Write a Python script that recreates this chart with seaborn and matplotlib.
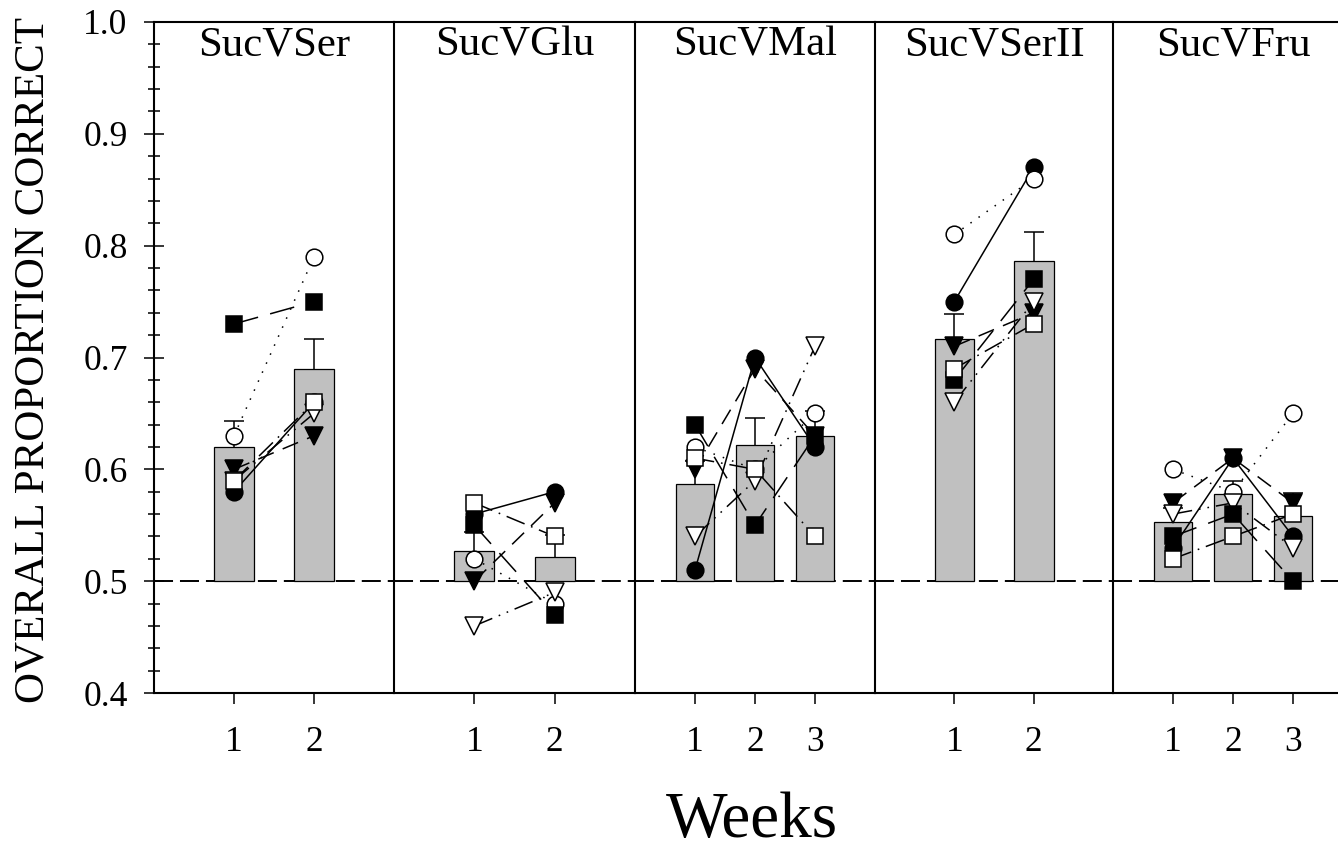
import numpy as np
import pandas as pd
import matplotlib
matplotlib.use("Agg")
import matplotlib.pyplot as plt
from matplotlib.ticker import MultipleLocator, FormatStrFormatter
import seaborn as sns

# ---------------------------------------------------------------------------
# Overall proportion correct for six subjects (S1..S6), per test week
# ---------------------------------------------------------------------------
subjects = ["S1", "S2", "S3", "S4", "S5", "S6"]
panel_names = ["SucVSer", "SucVGlu", "SucVMal", "SucVSerII", "SucVFru"]
weeks_two = ["1", "2"]
weeks_three = ["1", "2", "3"]

# rows follow the subjects list, columns follow the weeks
sucvser = [[0.58, 0.66], [0.63, 0.79], [0.60, 0.63],
           [0.59, 0.65], [0.73, 0.75], [0.59, 0.66]]
sucvglu = [[0.56, 0.58], [0.52, 0.48], [0.50, 0.57],
           [0.46, 0.49], [0.55, 0.47], [0.57, 0.54]]
sucvmal = [[0.51, 0.70, 0.62], [0.62, 0.60, 0.65], [0.60, 0.69, 0.63],
           [0.54, 0.59, 0.71], [0.64, 0.55, 0.63], [0.61, 0.60, 0.54]]
sucvserii = [[0.75, 0.87], [0.81, 0.86], [0.71, 0.74],
             [0.66, 0.75], [0.68, 0.77], [0.69, 0.73]]
sucvfru = [[0.53, 0.61, 0.54], [0.60, 0.58, 0.65], [0.57, 0.61, 0.57],
           [0.56, 0.57, 0.53], [0.54, 0.56, 0.50], [0.52, 0.54, 0.56]]

chance = 0.5

panel_values = [sucvser, sucvglu, sucvmal, sucvserii, sucvfru]
panel_weeks = [weeks_two, weeks_two, weeks_three, weeks_two, weeks_three]

# ---------------------------------------------------------------------------
# Styling
# ---------------------------------------------------------------------------
sns.set_style("ticks", {"axes.edgecolor": "black", "xtick.color": "black",
                        "ytick.color": "black", "text.color": "black"})
plt.rcParams["font.family"] = ["Liberation Serif", "DejaVu Serif"]
plt.rcParams["lines.scale_dashes"] = False
plt.rcParams["axes.linewidth"] = 1.5

# per-subject marker / line appearance
subject_styles = {
    "S1": dict(marker="o", markersize=12, markerfacecolor="black", linestyle="-"),
    "S2": dict(marker="o", markersize=12, markerfacecolor="white", linestyle=(0, (1.1, 6))),
    "S3": dict(marker="v", markersize=12.5, markerfacecolor="black", linestyle=(0, (12, 7))),
    "S4": dict(marker="v", markersize=12.5, markerfacecolor="white",
               linestyle=(0, (14, 5, 1.2, 5, 1.2, 5))),
    "S5": dict(marker="s", markersize=11, markerfacecolor="black", linestyle=(0, (18, 9))),
    "S6": dict(marker="s", markersize=11, markerfacecolor="white",
               linestyle=(0, (14, 5, 1.2, 5))),
}

W, H = 1338, 852
fig = plt.figure(figsize=(W / 100, H / 100), dpi=100)

# panel edges in pixels (last panel runs past the right border)
edges = [154, 394, 635, 875, 1113, 1353]
top_px, bot_px = 22, 693

for i, (name, weeks, values) in enumerate(zip(panel_names, panel_weeks, panel_values)):
    left, right = edges[i], edges[i + 1]
    ax = fig.add_axes([left / W, 1 - bot_px / H, (right - left) / W, (bot_px - top_px) / H])

    n = len(weeks)
    df = pd.DataFrame(
        [(s, w, j, values[k][j]) for k, s in enumerate(subjects) for j, w in enumerate(weeks)],
        columns=["subject", "week", "pos", "value"],
    )

    # chance line
    ax.axhline(chance, color="black", lw=1.4, ls=(0, (13.7, 5)), zorder=0.5)

    # group mean bars, starting at chance level
    sns.barplot(data=df, x="pos", y="value", errorbar=None, color="#c0c0c0",
                saturation=1, edgecolor="black", linewidth=0.9,
                width=0.5 if n == 2 else 0.62, ax=ax, zorder=1)
    for p in ax.patches:
        h = p.get_height()
        p.set_y(chance)
        p.set_height(h - chance)

    # upward standard-error bars
    stats = df.groupby("pos")["value"].agg(["mean", "sem"])
    eb = ax.errorbar(stats.index, stats["mean"], yerr=[np.zeros(n), stats["sem"]],
                     fmt="none", ecolor="black", elinewidth=1.1, capsize=7.2,
                     capthick=1.1, zorder=2.5)
    for cap in eb[1]:
        if np.allclose(cap.get_ydata(), stats["mean"].values):
            cap.set_visible(False)

    # individual subjects
    for k, s in enumerate(subjects):
        st = subject_styles[s]
        sub = df[df["subject"] == s]
        sns.lineplot(data=sub, x="pos", y="value", ax=ax, errorbar=None,
                     color="black", linewidth=1.1, linestyle=st["linestyle"],
                     marker=st["marker"], markersize=st["markersize"],
                     markerfacecolor=st["markerfacecolor"],
                     markeredgecolor="black", markeredgewidth=1.1,
                     zorder=3 + 0.1 * k, clip_on=False)

    ax.set_xlim(-1, n)
    ax.set_ylim(0.4, 1.0)
    ax.set_xticks(range(n))
    ax.set_xticklabels(weeks)
    ax.set_xlabel("")
    ax.set_ylabel("")
    ax.spines["right"].set_visible(False)
    ax.tick_params(axis="x", which="both", direction="out", length=8, width=1.1,
                   labelsize=25.5, pad=16, top=False)
    if i == 0:
        ax.yaxis.set_major_locator(MultipleLocator(0.1))
        ax.yaxis.set_minor_locator(MultipleLocator(0.02))
        ax.yaxis.set_major_formatter(FormatStrFormatter("%.1f"))
        ax.tick_params(axis="y", which="major", direction="inout", length=14,
                       width=1.1, labelsize=25.5, pad=12, right=False)
        ax.tick_params(axis="y", which="minor", direction="inout", length=9,
                       width=1.1, right=False)
    else:
        ax.tick_params(axis="y", which="both", left=False, right=False, labelleft=False)

    ax.text(0.5, 1 - 33 / (bot_px - top_px), name, transform=ax.transAxes,
            ha="center", va="baseline", fontsize=30.8)

fig.text(752 / W, 1 - 837 / H, "Weeks", ha="center", va="baseline", fontsize=47)
fig.text(33 / W, 1 - 360 / H, "OVERALL PROPORTION CORRECT", rotation=90,
         ha="center", va="center", fontsize=31)

fig.savefig("out.png", dpi=100)
